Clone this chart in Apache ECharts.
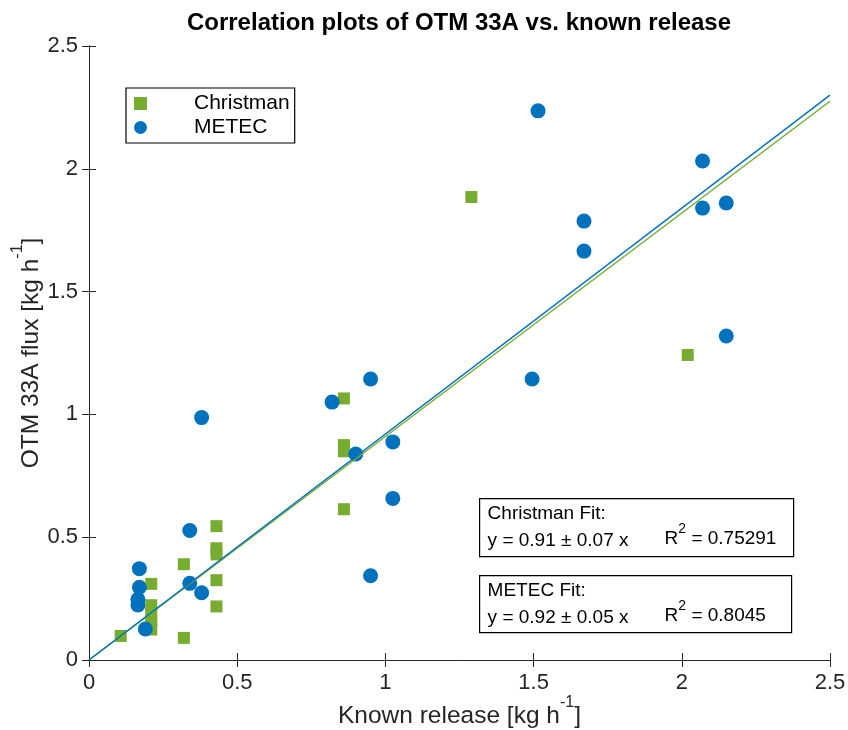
<!DOCTYPE html>
<html>
<head>
<meta charset="utf-8">
<script src="https://cdn.jsdelivr.net/npm/echarts@6/dist/echarts.min.js"></script>
<style>
html,body{margin:0;padding:0;background:#fff;}
#chart{width:848px;height:730px;}
</style>
</head>
<body>
<div id="chart"></div>
<script>
// ---- data ----
const christmanX = [0.107, 0.21, 0.21, 0.21, 0.21, 0.21, 0.32, 0.32, 0.43, 0.43, 0.43, 0.43, 0.43, 0.86, 0.86, 0.86, 0.86, 1.29, 2.02];
const christmanY = [0.098, 0.31, 0.223, 0.19, 0.155, 0.124, 0.39, 0.09, 0.545, 0.455, 0.43, 0.325, 0.218, 1.065, 0.875, 0.85, 0.614, 1.885, 1.242];
const metecX = [0.17, 0.17, 0.165, 0.165, 0.19, 0.34, 0.34, 0.38, 0.38, 0.82, 0.90, 0.95, 0.95, 1.025, 1.025, 1.495, 1.515, 1.67, 1.67, 2.07, 2.07, 2.15, 2.15];
const metecY = [0.372, 0.296, 0.247, 0.224, 0.126, 0.527, 0.312, 0.274, 0.987, 1.05, 0.839, 1.144, 0.343, 0.888, 0.658, 1.144, 2.236, 1.787, 1.665, 2.032, 1.840, 1.861, 1.319];
const seriesNames = ['Christman', 'METEC'];
const fitSlopes = [0.91, 0.92];
const fitErrors = [0.07, 0.05];
const fitR2 = ['0.75291', '0.8045'];
const xTicks = [0, 0.5, 1, 1.5, 2, 2.5];
const yTicks = [0, 0.5, 1, 1.5, 2, 2.5];

const GREEN = '#77AC30', BLUE = '#0072BD', AX = '#262626';
const FONT = "'Liberation Sans', Arial, Helvetica, sans-serif";

const zip = (xs, ys) => xs.map((x, i) => [x, ys[i]]);
const xMax = xTicks[xTicks.length - 1];
const fitLine = s => [[0, 0], [xMax, xMax * s]];

const chart = echarts.init(document.getElementById('chart'), null, {renderer: 'canvas'});

const axisCommon = {
  type: 'value', min: xTicks[0], max: xMax, interval: 0.5,
  axisLine: {show: true, lineStyle: {color: AX, width: 1}},
  axisTick: {show: true, inside: true, length: 7, lineStyle: {color: AX}},
  splitLine: {show: false},
};
const labelStyle = {fontSize: 22, color: AX, fontFamily: FONT};
const nameRich = {
  n: {fontSize: 24.5, lineHeight: 34, verticalAlign: 'bottom', color: AX, fontFamily: FONT},
  s: {fontSize: 16, lineHeight: 20, verticalAlign: 'top', color: AX, fontFamily: FONT}
};

function fitBox(x, y, w, h, title, idx) {
  return {
    type: 'group', left: x, top: y,
    children: [
      {type: 'rect', shape: {x: 0, y: 0, width: w, height: h}, style: {fill: '#fff', stroke: '#000', lineWidth: 1.2}},
      {type: 'text', x: 8, y: 15, style: {text: title, font: '19px ' + FONT, fill: '#000', textVerticalAlign: 'middle'}},
      {type: 'text', x: 8, y: 42, style: {text: 'y = ' + fitSlopes[idx].toFixed(2) + ' \u00B1 ' + fitErrors[idx].toFixed(2) + ' x', font: '19px ' + FONT, fill: '#000', textVerticalAlign: 'middle'}},
      {type: 'text', x: 185, y: 37, style: {
        text: '{a|R}{b|2}{a| = ' + fitR2[idx] + '}',
        rich: {
          a: {fontSize: 19, lineHeight: 26, verticalAlign: 'bottom', fontFamily: FONT, fill: '#000', color: '#000'},
          b: {fontSize: 14, lineHeight: 14, verticalAlign: 'top', fontFamily: FONT, fill: '#000', color: '#000'}
        },
        textVerticalAlign: 'middle'
      }}
    ]
  };
}

const option = {
  backgroundColor: '#fff',
  animation: false,
  title: {
    text: 'Correlation plots of OTM 33A vs. known release',
    left: 459, top: 11, textAlign: 'center', padding: 0,
    textStyle: {fontSize: 24, fontWeight: 'bold', color: '#000', fontFamily: FONT}
  },
  grid: {left: 89, right: 18, top: 46, bottom: 70, containLabel: false, outerBoundsMode: 'none'},
  legend: {
    left: 126, top: 88, orient: 'vertical',
    borderColor: '#000', borderWidth: 1.2, backgroundColor: '#fff',
    padding: [5, 5, 5, 8], itemWidth: 13, itemHeight: 13, itemGap: 3,
    textStyle: {fontSize: 21, color: '#000', fontFamily: FONT, padding: [0, 0, 0, 42]},
    data: [{name: seriesNames[0], icon: 'rect'}, {name: seriesNames[1], icon: 'circle'}]
  },
  xAxis: [
    Object.assign({}, axisCommon, {
      position: 'bottom',
      axisLabel: Object.assign({margin: 12}, labelStyle),
      name: '{n|Known release [kg h}{s|-1}{n|]}',
      nameLocation: 'middle', nameGap: 35, nameMoveOverlap: false,
      nameTextStyle: {rich: nameRich}
    }),
    Object.assign({}, axisCommon, {position: 'top', axisLabel: {show: false}})
  ],
  yAxis: [
    Object.assign({}, axisCommon, {
      min: yTicks[0], max: yTicks[yTicks.length - 1],
      position: 'left',
      axisLabel: Object.assign({margin: 11}, labelStyle),
      name: '{n|OTM 33A flux [kg h}{s|-1}{n|]}',
      nameLocation: 'middle', nameGap: 45, nameMoveOverlap: false,
      nameTextStyle: {rich: nameRich}
    }),
    Object.assign({}, axisCommon, {min: yTicks[0], max: yTicks[yTicks.length - 1], position: 'right', axisLabel: {show: false}})
  ],
  series: [
    {name: seriesNames[0], type: 'scatter', symbol: 'rect', symbolSize: 12,
     itemStyle: {color: GREEN, opacity: 1}, data: zip(christmanX, christmanY), z: 2},
    {name: seriesNames[1], type: 'scatter', symbol: 'circle', symbolSize: 15,
     itemStyle: {color: BLUE, opacity: 1}, data: zip(metecX, metecY), z: 3},
    {name: seriesNames[0] + ' fit', type: 'line', symbol: 'none', showSymbol: false,
     lineStyle: {color: GREEN, width: 1.5}, itemStyle: {color: GREEN}, data: fitLine(fitSlopes[0]), z: 4},
    {name: seriesNames[1] + ' fit', type: 'line', symbol: 'none', showSymbol: false,
     lineStyle: {color: BLUE, width: 1.5}, itemStyle: {color: BLUE}, data: fitLine(fitSlopes[1]), z: 5}
  ],
  graphic: [
    fitBox(479, 498, 314, 58, 'Christman Fit:', 0),
    fitBox(479, 575, 312, 57, 'METEC Fit:', 1)
  ]
};
chart.setOption(option);
</script>
</body>
</html>
